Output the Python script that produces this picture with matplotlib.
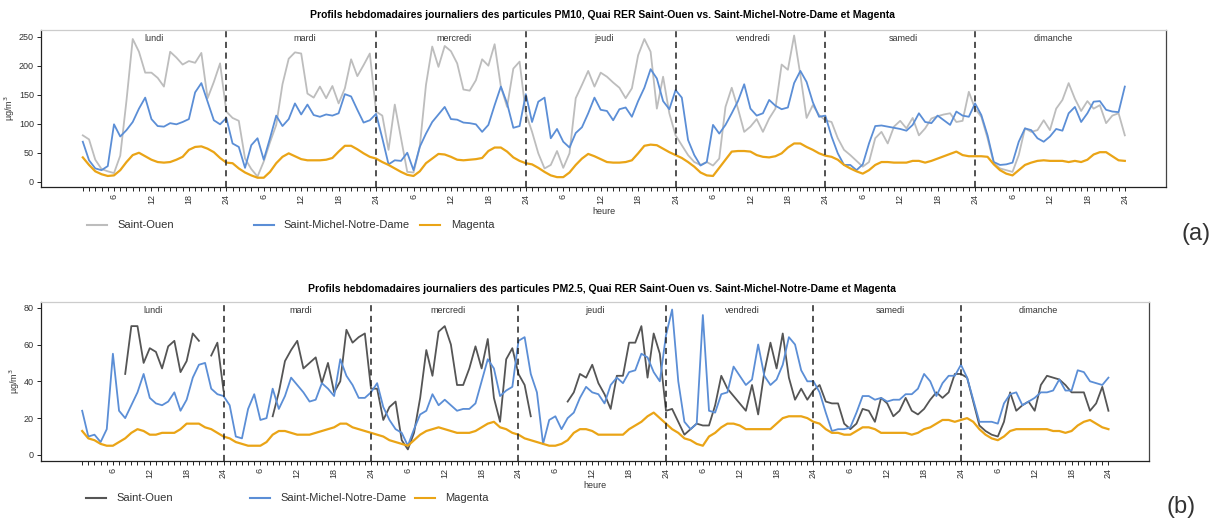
import numpy as np
import matplotlib
matplotlib.use("Agg")
import matplotlib.pyplot as plt
from matplotlib.lines import Line2D

plt.rcParams['font.family'] = ['Liberation Sans', 'DejaVu Sans']

nan = np.nan
days = ["lundi", "mardi", "mercredi", "jeudi", "vendredi", "samedi", "dimanche"]
legend_labels = ["Saint-Ouen", "Saint-Michel-Notre-Dame", "Magenta"]

# PM10, hourly values Monday -> Sunday (µg/m3)
so_pm10 = [
    80, 73, 38, 22, 18, 15, 45, 140, 246, 224, 188, 188, 179, 164, 224, 214, 202, 208, 205, 222, 144, 172, 204, 121,
    110, 105, 40, 22, 9, 35, 68, 98, 168, 212, 223, 221, 152, 145, 164, 144, 165, 135, 161, 211, 182, 201, 221, 121,
    114, 55, 133, 75, 17, 16, 60, 167, 233, 198, 234, 225, 204, 159, 157, 175, 211, 200, 237, 164, 129, 195, 207, 118,
    86, 49, 23, 29, 53, 24, 49, 144, 167, 191, 164, 188, 181, 171, 162, 144, 161, 218, 246, 224, 126, 181, 118, 80,
    63, 46, 34, 29, 34, 28, 40, 129, 162, 126, 86, 95, 108, 86, 109, 126, 202, 193, 252, 184, 110, 132, 115, 106,
    103, 75, 55, 46, 36, 26, 34, 75, 86, 66, 95, 105, 92, 110, 80, 92, 109, 113, 116, 118, 103, 105, 155, 126,
    112, 75, 32, 23, 20, 17, 46, 92, 86, 89, 106, 89, 126, 141, 170, 143, 122, 139, 126, 132, 101, 114, 118, 80,
]
smnd_pm10 = [
    69, 37, 23, 20, 27, 99, 78, 89, 103, 126, 145, 108, 96, 95, 101, 99, 103, 108, 154, 170, 138, 106, 99, 110,
    66, 60, 24, 63, 75, 38, 75, 114, 96, 108, 135, 116, 133, 115, 112, 116, 114, 118, 151, 147, 124, 102, 106, 117,
    75, 30, 37, 36, 50, 20, 60, 83, 103, 116, 129, 108, 107, 102, 101, 99, 86, 98, 132, 164, 135, 93, 96, 151,
    103, 138, 145, 75, 91, 69, 59, 84, 94, 118, 145, 124, 122, 106, 125, 128, 112, 139, 162, 194, 178, 139, 125, 158,
    145, 72, 46, 28, 34, 98, 83, 98, 118, 139, 168, 126, 114, 118, 141, 131, 125, 128, 170, 191, 172, 137, 112, 114,
    78, 49, 29, 29, 20, 30, 66, 96, 97, 95, 93, 91, 88, 98, 118, 103, 101, 114, 106, 98, 121, 114, 112, 135,
    115, 80, 34, 29, 30, 33, 69, 92, 89, 75, 69, 78, 91, 88, 118, 129, 103, 118, 138, 139, 124, 121, 120, 164,
]
mag_pm10 = [
    42, 29, 18, 13, 10, 11, 20, 34, 46, 50, 44, 38, 34, 33, 34, 38, 43, 55, 60, 61, 57, 51, 41, 33,
    32, 23, 16, 11, 7, 7, 17, 32, 43, 49, 44, 39, 37, 37, 37, 38, 41, 52, 62, 62, 56, 49, 43, 40,
    34, 29, 23, 17, 12, 10, 18, 32, 40, 48, 47, 43, 38, 37, 38, 39, 41, 53, 59, 59, 52, 42, 36, 32,
    30, 24, 17, 11, 8, 8, 16, 29, 40, 48, 44, 39, 34, 33, 33, 34, 37, 49, 62, 64, 63, 57, 51, 46,
    41, 34, 26, 16, 11, 10, 24, 38, 52, 53, 53, 52, 46, 43, 42, 44, 49, 59, 66, 66, 60, 55, 49, 45,
    43, 38, 29, 23, 18, 14, 20, 29, 34, 34, 33, 33, 33, 36, 36, 33, 36, 40, 44, 48, 52, 46, 44, 44,
    44, 43, 30, 20, 14, 11, 20, 29, 33, 36, 37, 36, 36, 36, 34, 36, 34, 38, 47, 51, 51, 44, 37, 36,
]

# PM2.5
so_pm25 = [
    nan, nan, nan, nan, nan, nan, nan, 44, 70, 70, 50, 58, 56, 47, 59, 62, 45, 51, 66, 62, nan, 54, 61, 35,
    nan, nan, nan, nan, nan, nan, nan, 21, 34, 51, 57, 62, 47, 50, 53, 39, 50, 34, 40, 68, 61, 64, 66, 36,
    36, 19, 26, 29, 8, 3, 12, 31, 57, 43, 67, 70, 60, 38, 38, 47, 59, 47, 63, 31, 18, 52, 58, 44,
    38, 21, nan, nan, nan, nan, nan, 29, 34, 44, 42, 49, 39, 33, 25, 43, 43, 61, 61, 70, 42, 66, 55, 24,
    25, 18, 11, 14, 17, 16, 16, 27, 43, 36, 32, 28, 24, 38, 22, 45, 61, 47, 66, 42, 30, 36, 30, 35,
    38, 29, 28, 28, 17, 14, 17, 25, 24, 18, 31, 28, 21, 24, 31, 24, 22, 25, 30, 34, 31, 34, 44, 44,
    42, 29, 16, 13, 11, 10, 18, 34, 24, 27, 29, 24, 38, 43, 42, 41, 38, 34, 34, 34, 24, 28, 37, 24,
]
smnd_pm25 = [
    24, 10, 11, 7, 14, 55, 24, 20, 27, 34, 44, 31, 28, 27, 29, 34, 24, 30, 42, 49, 50, 36, 33, 32,
    27, 10, 9, 25, 33, 19, 20, 36, 25, 32, 42, 38, 34, 29, 30, 39, 36, 32, 52, 43, 38, 31, 31, 34,
    39, 26, 19, 14, 12, 5, 14, 22, 24, 33, 27, 30, 27, 24, 25, 25, 28, 40, 52, 47, 32, 35, 37, 62,
    64, 44, 34, 6, 19, 21, 14, 20, 23, 31, 37, 34, 33, 28, 38, 42, 39, 45, 46, 55, 53, 45, 40, 65,
    79, 40, 18, 14, 17, 76, 24, 23, 33, 34, 48, 43, 38, 41, 60, 43, 38, 41, 49, 64, 60, 46, 40, 40,
    34, 23, 13, 14, 14, 15, 23, 32, 32, 30, 31, 29, 30, 30, 33, 33, 36, 44, 40, 32, 39, 43, 43, 49,
    42, 30, 18, 18, 18, 17, 28, 33, 34, 27, 29, 31, 34, 34, 35, 41, 35, 35, 46, 45, 40, 39, 38, 42,
]
mag_pm25 = [
    13, 9, 8, 6, 5, 5, 7, 9, 12, 14, 13, 11, 11, 12, 12, 12, 14, 17, 17, 17, 15, 14, 12, 10,
    9, 7, 6, 5, 5, 5, 7, 11, 13, 13, 12, 11, 11, 11, 12, 13, 14, 15, 17, 17, 15, 14, 13, 12,
    11, 10, 8, 7, 6, 5, 8, 11, 13, 14, 15, 14, 13, 12, 12, 12, 13, 15, 17, 18, 15, 14, 12, 11,
    9, 8, 7, 6, 5, 5, 6, 8, 12, 14, 14, 13, 11, 11, 11, 11, 11, 14, 16, 18, 21, 23, 20, 17,
    14, 12, 9, 8, 6, 5, 10, 12, 15, 17, 17, 16, 14, 14, 14, 14, 14, 17, 20, 21, 21, 21, 20, 18,
    17, 14, 12, 12, 11, 11, 13, 15, 15, 14, 12, 12, 12, 12, 12, 11, 12, 14, 15, 17, 19, 19, 18, 19,
    20, 18, 14, 11, 9, 8, 10, 13, 14, 14, 14, 14, 14, 14, 13, 13, 12, 13, 16, 18, 19, 17, 15, 14,
]

BLUE = "#5b8ed6"
ORANGE = "#eaa416"
W, H = 1215, 520


def draw_panel(ax, so, smnd, mag, so_color, yticks, ylim):
    hours = np.arange(1, len(mag) + 1)
    ax.plot(hours, so, color=so_color, lw=1.3)
    ax.plot(hours, smnd, color=BLUE, lw=1.3)
    ax.plot(hours, mag, color=ORANGE, lw=1.6)
    for d in range(1, 7):
        ax.axvline(24 * d, color="#222222", ls=(0, (4, 3)), lw=1.1)
    for d, name in enumerate(days):
        ax.text(24 * d + 12.5, 0.975, name, transform=ax.get_xaxis_transform(),
                ha="center", va="top", fontsize=6.5, color="#333333")
    ax.set_xlim(-5.7, 174.6)
    ax.set_ylim(*ylim)
    ax.set_xticks(hours)
    ax.set_xticklabels([str((h - 1) % 24 + 1) if h % 6 == 0 else "" for h in hours],
                       rotation=90, fontsize=6.5, color="#333333")
    ax.set_yticks(yticks)
    ax.set_yticklabels([str(v) for v in yticks], fontsize=6.5, color="#333333")
    ax.tick_params(axis="both", length=3, width=0.6, pad=2)
    ax.set_xlabel("heure", fontsize=6.5, color="#333333", labelpad=2)
    ax.set_ylabel("µg/m$^{3}$", fontsize=6.5, color="#333333", labelpad=1.5)
    ax.spines["top"].set_color("#cccccc")
    ax.spines["right"].set_color("#444444")
    for s in ["left", "bottom"]:
        ax.spines[s].set_color("#222222")
    for s in ax.spines.values():
        s.set_linewidth(0.9)


def add_legend(fig, y, so_color, line_x, text_x):
    colors = [so_color, BLUE, ORANGE]
    for lab, c, lx, tx in zip(legend_labels, colors, line_x, text_x):
        fig.add_artist(Line2D([lx / W, (lx + 20) / W], [1 - y / H, 1 - y / H],
                              color=c, lw=1.5, transform=fig.transFigure))
        fig.text(tx / W, 1 - y / H, lab, fontsize=8, va="center", color="#333333")


fig = plt.figure(figsize=(W / 100, H / 100), dpi=100)

ax1 = fig.add_axes([41 / W, 1 - 187 / H, (1166 - 41) / W, 157 / H])
draw_panel(ax1, so_pm10, smnd_pm10, mag_pm10, "#bdbdbd", [0, 50, 100, 150, 200, 250], (-9, 261.5))
fig.text(603 / W, 1 - 15 / H,
         "Profils hebdomadaires journaliers des particules PM10, Quai RER Saint-Ouen vs. Saint-Michel-Notre-Dame et Magenta",
         ha="center", va="center", fontsize=7.5, fontweight="bold")
add_legend(fig, 225, "#bdbdbd", [87, 254, 420], [117, 283, 451])
fig.text(1196 / W, 1 - 234 / H, "(a)", ha="center", va="center", fontsize=17, color="#333333")

ax2 = fig.add_axes([41 / W, 1 - 461 / H, (1149 - 41) / W, 159 / H])
draw_panel(ax2, so_pm25, smnd_pm25, mag_pm25, "#555555", [0, 20, 40, 60, 80], (-3.3, 83.1))
fig.text(602 / W, 1 - 289 / H,
         "Profils hebdomadaires journaliers des particules PM2.5, Quai RER Saint-Ouen vs. Saint-Michel-Notre-Dame et Magenta",
         ha="center", va="center", fontsize=7.5, fontweight="bold")
add_legend(fig, 498, "#555555", [86, 250, 415], [116, 280, 445])
fig.text(1181 / W, 1 - 507 / H, "(b)", ha="center", va="center", fontsize=17, color="#333333")

fig.savefig("out.png", dpi=100)
